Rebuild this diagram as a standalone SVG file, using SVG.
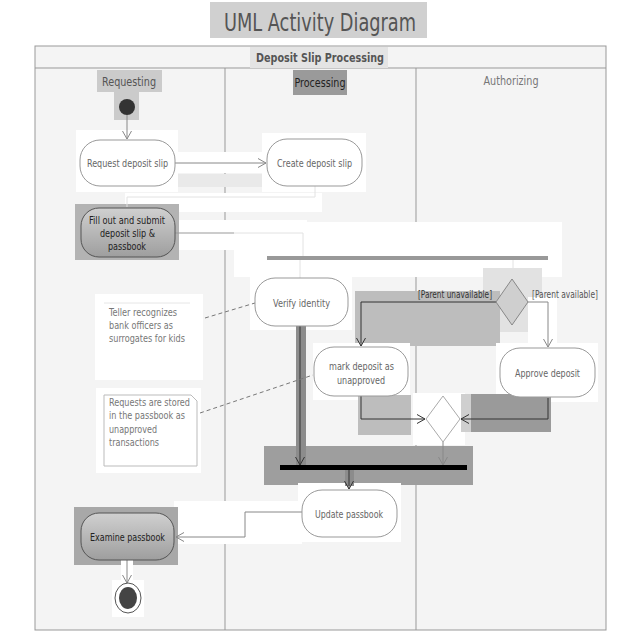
<svg xmlns="http://www.w3.org/2000/svg" width="640" height="640" viewBox="0 0 640 640">
  <style>
    text { font-family: "DejaVu Sans Condensed", "DejaVu Sans", "Liberation Sans", sans-serif; }
    .lbl { font-size: 11px; fill: #666; text-anchor: middle; }
    .lbl-dark { font-size: 11px; fill: #222; text-anchor: middle; }
    .node { fill: #fff; stroke: #999; stroke-width: 1; }
    .node-gray { fill: url(#grayNode); stroke: #555; stroke-width: 1; }
    .lane-title { font-size: 12.5px; text-anchor: middle; }
    .note-text { font-size: 10.5px; fill: #777; }
    .edge { fill: none; stroke: #888; stroke-width: 1; marker-end: url(#open); }
    .edge-dark { fill: none; stroke: #333; stroke-width: 1; marker-end: url(#openDark); }
    .edge-plain { fill: none; stroke: #999; stroke-width: 1; }
    .edge-faint { fill: none; stroke: #e2e2e2; stroke-width: 1; }
    .dashed { fill: none; stroke: #777; stroke-width: 1; stroke-dasharray: 4 3; }
    .guard { font-size: 10.5px; }
  </style>
  <defs>
    <linearGradient id="grayNode" x1="0" y1="0" x2="0" y2="1">
      <stop offset="0" stop-color="#d0d0d0"/>
      <stop offset="1" stop-color="#9e9e9e"/>
    </linearGradient>
    <marker id="open" markerUnits="userSpaceOnUse" markerWidth="12" markerHeight="12" viewBox="-10 -6 12 12" refX="0" refY="0" orient="auto">
      <path d="M-8,-4.5 L0,0 L-8,4.5" fill="none" stroke="#888" stroke-width="1"/>
    </marker>
    <marker id="openDark" markerUnits="userSpaceOnUse" markerWidth="12" markerHeight="12" viewBox="-10 -6 12 12" refX="0" refY="0" orient="auto">
      <path d="M-8,-4.5 L0,0 L-8,4.5" fill="none" stroke="#333" stroke-width="1"/>
    </marker>
  </defs>

  <rect x="0" y="0" width="640" height="640" fill="#fff"/>

  <!-- swimlane frame -->
  <g id="frame">
    <rect x="35" y="46" width="571" height="584" fill="#f4f4f4" stroke="#999" stroke-width="1"/>
    <line x1="35" y1="68" x2="606" y2="68" stroke="#999"/>
    <line x1="225" y1="68" x2="225" y2="630" stroke="#999"/>
    <line x1="416" y1="68" x2="416" y2="630" stroke="#999"/>
  </g>

  <!-- shaded and blank panels laid over the lanes -->
  <g id="panels">
    <rect x="210" y="2" width="217" height="36" fill="#d0d0d0"/>
    <rect x="250" y="47" width="138" height="21" fill="#e4e4e4"/>
    <rect x="97" y="70" width="65" height="22" fill="#cbcbcb"/>
    <rect x="293" y="70" width="54" height="25" fill="#9a9a9a"/>
    <rect x="114" y="92" width="25" height="28" fill="#cbcbcb"/>
    <rect x="76" y="130" width="102" height="62" fill="#fff"/>
    <rect x="262" y="133" width="104" height="59" fill="#fff"/>
    <rect x="178" y="152" width="84" height="21" fill="#fff"/>
    <rect x="178" y="174" width="84" height="13" fill="#e9e9e9"/>
    <rect x="125" y="193" width="197" height="19" fill="#fff"/>
    <rect x="75" y="204" width="104" height="56" fill="#b3b3b3"/>
    <rect x="179" y="220" width="128" height="30" fill="#fff"/>
    <rect x="234" y="222" width="328" height="55" fill="#fff"/>
    <rect x="250" y="275" width="102" height="55" fill="#fff"/>
    <rect x="483" y="268" width="59" height="64" fill="#e2e2e2"/>
    <rect x="355" y="291" width="145" height="55" fill="#bdbdbd"/>
    <rect x="528" y="297" width="29" height="50" fill="#fff"/>
    <rect x="313" y="343" width="97" height="57" fill="#fff"/>
    <rect x="496" y="343" width="102" height="59" fill="#fff"/>
    <rect x="358" y="395" width="53" height="40" fill="#bdbdbd"/>
    <rect x="413" y="393" width="52" height="52" fill="#fff"/>
    <rect x="461" y="394" width="12" height="38" fill="#cfcfcf"/>
    <rect x="471" y="394" width="80" height="38" fill="#9a9a9a"/>
    <rect x="264" y="446" width="209" height="39" fill="#9e9e9e"/>
    <rect x="298" y="483" width="103" height="59" fill="#fff"/>
    <rect x="174" y="501" width="128" height="43" fill="#fff"/>
    <rect x="74" y="507" width="104" height="58" fill="#a8a8a8"/>
    <rect x="121" y="556" width="12" height="30" fill="#fff"/>
    <rect x="112" y="580" width="32" height="37" fill="#fff"/>
    <rect x="95" y="294" width="108" height="86" fill="#fff"/>
    <rect x="96" y="388" width="105" height="85" fill="#fff"/>
    <rect x="296" y="323" width="10" height="143" fill="#8c8c8c"/>
    <rect x="345" y="470" width="9" height="16" fill="#8c8c8c"/>
  </g>

  <!-- titles -->
  <g id="titles">
    <text x="320" y="31" font-size="24" fill="#555" text-anchor="middle" textLength="192" lengthAdjust="spacingAndGlyphs">UML Activity Diagram</text>
    <text x="320" y="62" font-size="12.5" font-weight="bold" fill="#555" text-anchor="middle" textLength="128" lengthAdjust="spacingAndGlyphs">Deposit Slip Processing</text>
    <text class="lane-title" x="129" y="86" fill="#555" textLength="54" lengthAdjust="spacingAndGlyphs">Requesting</text>
    <text class="lane-title" x="320" y="87" fill="#222" textLength="51" lengthAdjust="spacingAndGlyphs">Processing</text>
    <text class="lane-title" x="511" y="85" fill="#777" textLength="55" lengthAdjust="spacingAndGlyphs">Authorizing</text>
  </g>

  <!-- connectors -->
  <g id="connectors">
    <path class="edge" d="M127,115 V139"/>
    <path class="edge" d="M175,163 H266"/>
    <path class="edge-faint" d="M315,186 V197 H127 V207"/>
    <path class="edge-plain" d="M175,233 H234"/>
    <path class="edge-faint" d="M234,233 H303 V256"/>
    <path class="edge-faint" d="M300,260 V278"/>
    <path class="edge-faint" d="M513,260 V279"/>
    <path class="edge-dark" d="M496,302 H361 V346"/>
    <path class="edge" d="M528,302 H548 V347"/>
    <path class="edge-dark" d="M361,395 V419 H425"/>
    <path class="edge-dark" d="M548,398 V419 H461"/>
    <path class="edge" d="M443,442 V465"/>
    <path class="edge-dark" d="M300,326 V465"/>
    <path class="edge-dark" d="M349,470 V489"/>
    <path class="edge" d="M302,512 H245 V537 H176"/>
    <path class="edge" d="M127,560 V583"/>
    <path class="dashed" d="M205,318 L255,303"/>
    <path class="dashed" d="M200,413 L313,375"/>
    <text class="guard" x="418" y="298" fill="#333" textLength="74" lengthAdjust="spacingAndGlyphs">[Parent unavailable]</text>
    <text class="guard" x="532" y="298" fill="#555" textLength="66" lengthAdjust="spacingAndGlyphs">[Parent available]</text>
  </g>

  <!-- activity nodes -->
  <g id="initial">
    <circle cx="127" cy="107" r="8" fill="#333"/>
  </g>
  <g id="request-deposit-slip">
    <rect class="node" x="80" y="140" width="95" height="46" rx="20"/>
    <text class="lbl" x="127.5" y="167" textLength="81" lengthAdjust="spacingAndGlyphs">Request deposit slip</text>
  </g>
  <g id="create-deposit-slip">
    <rect class="node" x="267" y="139" width="95" height="47" rx="20"/>
    <text class="lbl" x="314.5" y="167" textLength="75" lengthAdjust="spacingAndGlyphs">Create deposit slip</text>
  </g>
  <g id="fill-out">
    <rect class="node-gray" x="81" y="208" width="94" height="49" rx="18"/>
    <text class="lbl-dark" x="127" y="224" textLength="76" lengthAdjust="spacingAndGlyphs">Fill out and submit</text>
    <text class="lbl-dark" x="127.5" y="237" textLength="55" lengthAdjust="spacingAndGlyphs">deposit slip &amp;</text>
    <text class="lbl-dark" x="127" y="250" textLength="38" lengthAdjust="spacingAndGlyphs">passbook</text>
  </g>
  <g id="fork">
    <rect x="267" y="256" width="281" height="4" fill="#999"/>
  </g>
  <g id="verify-identity">
    <rect class="node" x="255" y="278" width="93" height="48" rx="20"/>
    <text class="lbl" x="301.5" y="307" fill="#555" textLength="57" lengthAdjust="spacingAndGlyphs">Verify identity</text>
  </g>
  <g id="decision">
    <polygon points="512,279 528,302 512,325 496,302" fill="#cfcfcf" stroke="#888"/>
  </g>
  <g id="mark-unapproved">
    <rect class="node" x="314" y="347" width="94" height="49" rx="20"/>
    <text class="lbl" x="361.5" y="370" textLength="65" lengthAdjust="spacingAndGlyphs">mark deposit as</text>
    <text class="lbl" x="361" y="384" textLength="48" lengthAdjust="spacingAndGlyphs">unapproved</text>
  </g>
  <g id="approve-deposit">
    <rect class="node" x="500" y="348" width="95" height="49" rx="20" stroke="#ddd"/>
    <text class="lbl" x="547.5" y="377" fill="#999" textLength="65" lengthAdjust="spacingAndGlyphs">Approve deposit</text>
  </g>
  <g id="merge">
    <polygon points="443,396 460,419 443,442 426,419" fill="#fff" stroke="#aaa"/>
  </g>
  <g id="join">
    <rect x="280" y="465" width="187" height="5" fill="#000"/>
  </g>
  <g id="update-passbook">
    <rect class="node" x="302" y="490" width="95" height="47" rx="20" stroke="#888"/>
    <text class="lbl" x="349" y="518" fill="#444" textLength="68" lengthAdjust="spacingAndGlyphs">Update passbook</text>
  </g>
  <g id="examine-passbook">
    <rect class="node-gray" x="81" y="513" width="93" height="47" rx="18"/>
    <text class="lbl-dark" x="127.5" y="541" textLength="75" lengthAdjust="spacingAndGlyphs">Examine passbook</text>
  </g>
  <g id="final">
    <ellipse cx="128" cy="598" rx="13" ry="15" fill="#fff" stroke="#555"/>
    <ellipse cx="128" cy="598" rx="9" ry="11" fill="#444"/>
  </g>

  <!-- notes -->
  <g id="note-teller">
    <path d="M104,303 H190" stroke="#e6e6e6" fill="none"/>
    <text class="note-text" x="109" y="316" textLength="68" lengthAdjust="spacingAndGlyphs">Teller recognizes</text>
    <text class="note-text" x="109" y="329" textLength="64" lengthAdjust="spacingAndGlyphs">bank officers as</text>
    <text class="note-text" x="109" y="342" textLength="76" lengthAdjust="spacingAndGlyphs">surrogates for kids</text>
  </g>
  <g id="note-requests">
    <path d="M104,395 H191 L197,401 V466 H104 Z" fill="#fff" stroke="#bbb"/>
    <text class="note-text" x="109" y="406" fill="#555" textLength="81" lengthAdjust="spacingAndGlyphs">Requests are stored</text>
    <text class="note-text" x="109" y="419" fill="#555" textLength="76" lengthAdjust="spacingAndGlyphs">in the passbook as</text>
    <text class="note-text" x="109" y="433" fill="#555" textLength="48" lengthAdjust="spacingAndGlyphs">unapproved</text>
    <text class="note-text" x="109" y="446" fill="#555" textLength="50" lengthAdjust="spacingAndGlyphs">transactions</text>
  </g>
</svg>
